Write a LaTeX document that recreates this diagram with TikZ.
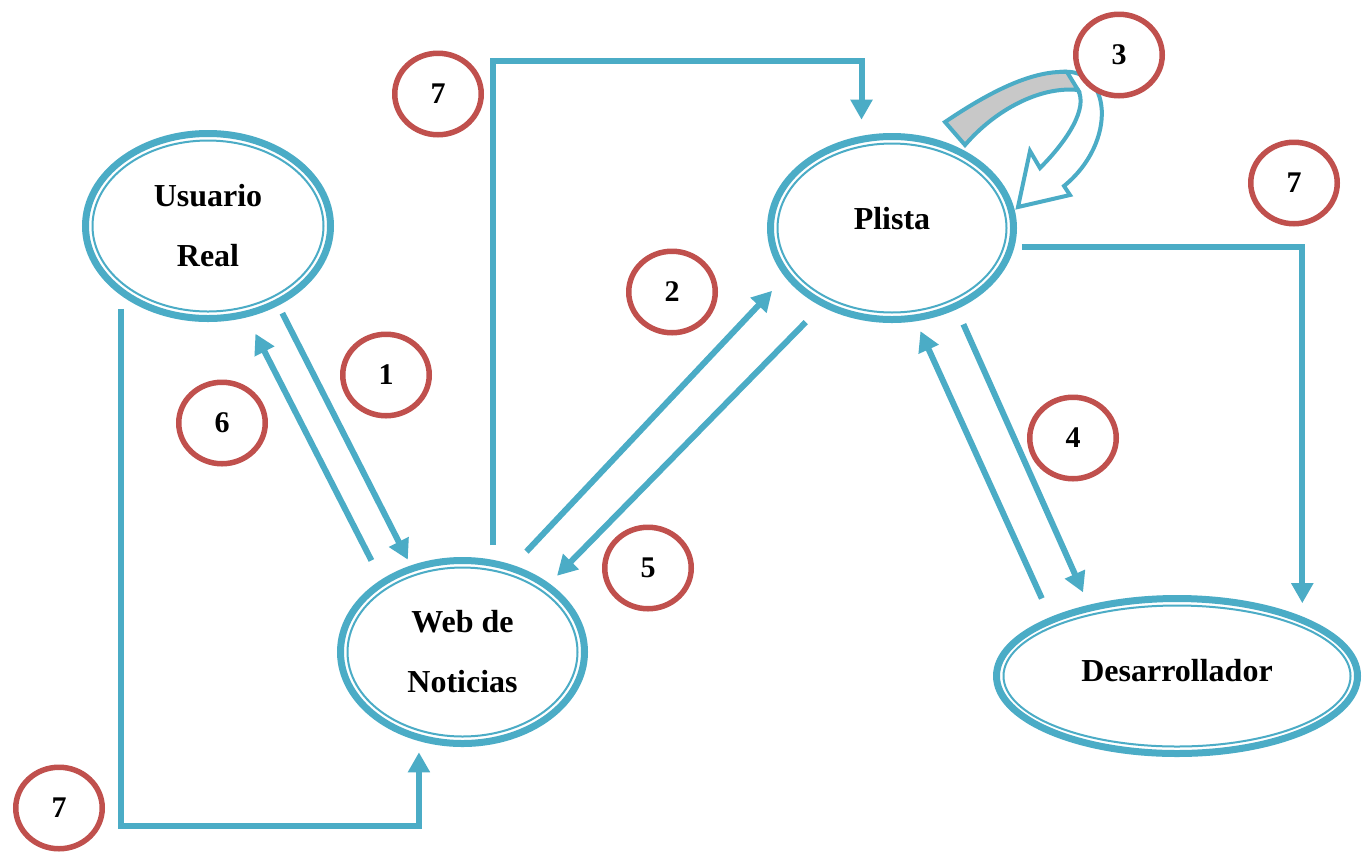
\documentclass[tikz,border=0pt]{standalone}
\usepackage{fontspec}
\setmainfont{Liberation Serif}
\usetikzlibrary{shapes.geometric,arrows.meta}
\definecolor{cb}{HTML}{4BACC6}
\definecolor{cr}{HTML}{C0504D}
\definecolor{cg}{HTML}{C8C8C8}
\tikzset{
  ell/.style={ellipse, draw=cb, line width=7pt, inner sep=0pt, outer sep=0pt, align=center,
    font=\bfseries\fontsize{32}{60}\selectfont},
  inell/.style={draw=cb, line width=2pt},
  numc/.style={ellipse, draw=cr, line width=5.5pt, minimum width=86.5pt, minimum height=81.5pt,
    inner sep=0pt, fill=white, font=\bfseries\fontsize{30}{32}\selectfont},
  arr/.style={draw=cb, line width=6pt, -{Triangle[length=20pt,width=21pt]}},
  bend3/.style={draw=cb, line width=4pt, line join=miter},
}
\begin{document}
\begin{tikzpicture}[x=1pt,y=1pt]
\useasboundingbox[fill=white] (0,0) rectangle (1362,-855);

% main ellipses
\node[ell, minimum width=245pt, minimum height=185pt] (ur) at (208,-226) {Usuario\\Real};
\node[ell, minimum width=244pt, minimum height=183pt] (web) at (462.5,-652) {Web de\\Noticias};
\node[ell, minimum width=243pt, minimum height=183pt] (pl) at (892,-228) {\raisebox{20pt}{Plista}};
\node[ell, minimum width=361pt, minimum height=155pt] (des) at (1177,-676) {\raisebox{12pt}{Desarrollador}};

% inner thin rings
\draw[inell] (ur.center) ellipse [x radius=115.5, y radius=85.5];
\draw[inell] (web.center) ellipse [x radius=115, y radius=84.5];
\draw[inell] (pl.center) ellipse [x radius=114.5, y radius=84.5];
\draw[inell] (des.center) ellipse [x radius=173.5, y radius=70.5];

% straight connectors
\draw[arr, shorten <=12pt, shorten >=10pt] (ur.-48.5) -- (web.121.6);
\draw[arr, shorten <=25pt, shorten >=22pt] (web.139.5) -- (ur.-67.6);
\draw[arr, shorten <=22.6pt, shorten >=22.3pt] (web.60.6) -- (pl.204.7);
\draw[arr, shorten <=25.8pt, shorten >=14.3pt] (pl.-132.8) -- (web.38.2);
\draw[arr, shorten <=19.9pt, shorten >=17.2pt] (pl.-51.4) -- (des.142.6);
\draw[arr, shorten <=23.9pt, shorten >=14.5pt] (des.156.9) -- (pl.-76.0);

% elbow connectors (7)
\draw[arr, shorten <=18.4pt, shorten >=19.7pt] (web.71.0) -- ++(0,502.4) -| (pl.109.9);
\draw[arr, shorten <=11pt, shorten >=17pt] (pl.-9.08) -| (des.24.1);
\draw[arr, shorten <=17.6pt, shorten >=14.8pt] (ur.-143.8) -- ++(0,-534.6) -| (web.-117.6);

% curved self arrow (3)
\draw[bend3, fill=white] (1060,-72) .. controls (1112,-66) and (1118,-142) .. (1064,-186)
  -- (1070,-195) -- (1018,-207) -- (1030,-151) -- (1040,-168)
  .. controls (1068,-140) and (1088,-108) .. (1078,-90) -- cycle;
\draw[bend3, fill=cg] (945,-122) .. controls (985,-95) and (1030,-70) .. (1067,-72)
  -- (1078,-90) .. controls (1040,-86) and (995,-110) .. (965,-145) -- cycle;

% numbered circles
\node[numc] (n7a) at (438,-94) {7};
\node[numc] (n3) at (1119,-55) {3};
\node[numc] (n7b) at (1294,-183) {7};
\node[numc] (n2) at (672,-292) {2};
\node[numc] (n1) at (386,-375) {1};
\node[numc] (n6) at (222,-423) {6};
\node[numc] (n4) at (1073,-438) {4};
\node[numc] (n5) at (648,-568) {5};
\node[numc] (n7c) at (59,-808) {7};
\end{tikzpicture}
\end{document}
